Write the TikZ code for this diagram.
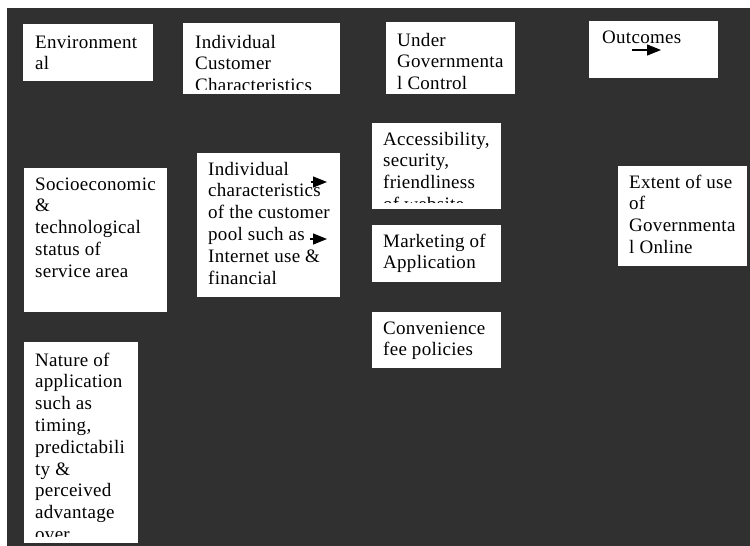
\documentclass[tikz,border=0pt]{standalone}
\usepackage{fontspec}
\setmainfont[LetterSpace=1.5]{Liberation Serif}
\usetikzlibrary{arrows.meta}
\definecolor{screen}{gray}{0.19}
\tikzset{
  % --- canvas ----------------------------------------------------------------
  backdrop/.style={fill=screen,draw=none},
  % --- white text boxes ------------------------------------------------------
  panel/.style={rectangle,fill=white,draw=none,inner sep=0pt,outer sep=0pt,
                anchor=north west},
  txt/.style={anchor=base west,inner sep=0pt,text=black,
              font=\fontsize{19}{21.8}\selectfont},
  % --- arrows ----------------------------------------------------------------
  flow/.style={-{Triangle[length=14pt,width=11pt]},line width=1.2pt,black},
}
% box text: first baseline on the node's base, lines split by hand
\newcommand{\boxlines}[1]{\parbox[t]{170pt}{\raggedright #1}}

\begin{document}
\begin{tikzpicture}[x=1pt, y=-1pt]
  \useasboundingbox (0,0) rectangle (750,546);
  \fill[backdrop] (7,8) rectangle (750,546);

  % column headings
  \node[panel,minimum width=130pt,minimum height=57pt] (env)  at (23,24)  {};
  \node[panel,minimum width=157pt,minimum height=71pt] (cust) at (183,23) {};
  \node[panel,minimum width=129pt,minimum height=72pt] (gov)  at (386,22) {};
  \node[panel,minimum width=129pt,minimum height=57pt] (outc) at (589,21) {};

  % factors
  \node[panel,minimum width=143pt,minimum height=144pt] (socio)  at (24,168)  {};
  \node[panel,minimum width=114pt,minimum height=201pt] (nature) at (24,342)  {};
  \node[panel,minimum width=143pt,minimum height=144pt] (pool)   at (197,153) {};
  \node[panel,minimum width=129pt,minimum height=86pt]  (access) at (372,123) {};
  \node[panel,minimum width=129pt,minimum height=57pt]  (market) at (372,225) {};
  \node[panel,minimum width=129pt,minimum height=56pt]  (fee)    at (372,312) {};
  \node[panel,minimum width=129pt,minimum height=100pt] (extent) at (618,166) {};

  % texts, cut off at the inner margin of each box
  \begin{scope}
    \clip ([yshift=4pt]env.south west) rectangle (env.north east);
    \node[txt] (env-t) at ([xshift=12pt,yshift=-24pt]env.north west)
      {\boxlines{Environment\\al}};
  \end{scope}
  \begin{scope}
    \clip ([yshift=5pt]cust.south west) rectangle (cust.north east);
    \node[txt] (cust-t) at ([xshift=12pt,yshift=-25pt]cust.north west)
      {\boxlines{Individual\\Customer\\Characteristics}};
  \end{scope}
  \begin{scope}
    \clip ([yshift=5pt]gov.south west) rectangle (gov.north east);
    \node[txt] (gov-t) at ([xshift=11pt,yshift=-24pt]gov.north west)
      {\boxlines{Under\\Governmenta\\l Control}};
  \end{scope}
  \begin{scope}
    \clip ([yshift=4pt]outc.south west) rectangle (outc.north east);
    \node[txt] (outc-t) at ([xshift=13pt,yshift=-22pt]outc.north west)
      {\boxlines{Outcomes}};
  \end{scope}
  \begin{scope}
    \clip ([yshift=4pt]socio.south west) rectangle (socio.north east);
    \node[txt] (socio-t) at ([xshift=11pt,yshift=-22pt]socio.north west)
      {\boxlines{Socioeconomic\\\&\\technological\\status of\\service area}};
  \end{scope}
  \begin{scope}
    \clip ([yshift=7pt]nature.south west) rectangle (nature.north east);
    \node[txt] (nature-t) at ([xshift=11pt,yshift=-24pt]nature.north west)
      {\boxlines{Nature of\\application\\such as\\timing,\\predictabili\\ty \&\\perceived\\advantage\\over}};
  \end{scope}
  \begin{scope}
    \clip ([yshift=4pt]pool.south west) rectangle (pool.north east);
    \node[txt] (pool-t) at ([xshift=11pt,yshift=-22pt]pool.north west)
      {\boxlines{Individual\\characteristics\\of the customer\\pool such as\\Internet use \&\\financial}};
  \end{scope}
  \begin{scope}
    \clip ([yshift=7pt]access.south west) rectangle (access.north east);
    \node[txt] (access-t) at ([xshift=11pt,yshift=-22pt]access.north west)
      {\boxlines{Accessibility,\\security,\\friendliness\\of website}};
  \end{scope}
  \begin{scope}
    \clip ([yshift=4pt]market.south west) rectangle (market.north east);
    \node[txt] (market-t) at ([xshift=11pt,yshift=-22pt]market.north west)
      {\boxlines{Marketing of\\Application}};
  \end{scope}
  \begin{scope}
    \clip ([yshift=4pt]fee.south west) rectangle (fee.north east);
    \node[txt] (fee-t) at ([xshift=11pt,yshift=-22pt]fee.north west)
      {\boxlines{Convenience\\fee policies}};
  \end{scope}
  \begin{scope}
    \clip ([yshift=4pt]extent.south west) rectangle (extent.north east);
    \node[txt] (extent-t) at ([xshift=11pt,yshift=-22pt]extent.north west)
      {\boxlines{Extent of use\\of\\Governmenta\\l Online}};
  \end{scope}

  % arrows, mostly hidden behind the boxes
  \coordinate (oa) at (632,50);  \coordinate (ob) at (661,50);
  \coordinate (pa) at (311,182); \coordinate (pb) at (327,182);
  \coordinate (qa) at (310,239); \coordinate (qb) at (327,239);
  \draw[flow] (oa) -- (ob);
  \draw[flow] (pa) -- (pb);
  \draw[flow] (qa) -- (qb);
\end{tikzpicture}
\end{document}
